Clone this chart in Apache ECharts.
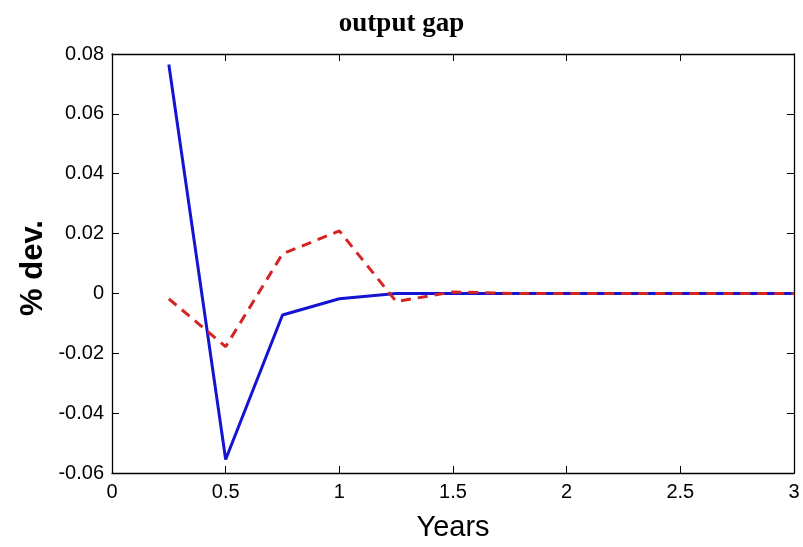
<!DOCTYPE html>
<html>
<head>
<meta charset="utf-8">
<script src="https://cdn.jsdelivr.net/npm/echarts@6/dist/echarts.min.js"></script>
<style>
  html, body { margin: 0; padding: 0; background: #fff; }
  #chart { width: 803px; height: 547px; }
</style>
</head>
<body>
<div id="chart"></div>
<script>
// Quarterly horizon (years) and impulse responses of the output gap
const years = [0.25, 0.5, 0.75, 1.0, 1.25, 1.5, 1.75, 2.0, 2.25, 2.5, 2.75, 3.0];
const seriesA = [0.0765, -0.0555, -0.0072, -0.0018, 0.0, 0.0, 0.0, 0.0, 0.0, 0.0, 0.0, 0.0];
const seriesB = [-0.0018, -0.0178, 0.0132, 0.0209, -0.0027, 0.0005, 0.0, 0.0, 0.0, 0.0, 0.0, 0.0];
const xTicks = [0, 0.5, 1, 1.5, 2, 2.5, 3];
const yTicks = [-0.06, -0.04, -0.02, 0, 0.02, 0.04, 0.06, 0.08];

const pairs = (vals) => years.map((t, i) => [t, vals[i]]);
const fmt = (v) => (Math.abs(v) < 1e-9 ? '0' : String(+v.toFixed(2)));

const sans = 'Liberation Sans, Arial, sans-serif';
const tickFont = { fontFamily: sans, fontSize: 20, color: '#000' };
const axisLineStyle = { onZero: false, lineStyle: { color: '#000', width: 1.3 } };
const innerTick = { inside: true, length: 7, lineStyle: { color: '#000', width: 1 } };

const chart = echarts.init(document.getElementById('chart'), null, { renderer: 'canvas' });
chart.setOption({
  animation: false,
  backgroundColor: '#fff',
  title: {
    text: 'output gap',
    left: 'center',
    top: 6,
    textStyle: { fontFamily: 'Liberation Serif, Times New Roman, serif', fontWeight: 'bold', fontSize: 27, color: '#000' }
  },
  graphic: [
    {
      type: 'text', x: 33, y: 268, rotation: Math.PI / 2,
      style: {
        text: '% dev.', fill: '#000', font: 'bold 31px ' + sans,
        textAlign: 'center', textVerticalAlign: 'middle'
      }
    }
  ],
  grid: { left: 112, right: 9, top: 54, bottom: 73, containLabel: false },
  xAxis: [
    {
      type: 'value', min: xTicks[0], max: xTicks[xTicks.length - 1], interval: 0.5, position: 'bottom',
      axisLine: axisLineStyle, axisTick: innerTick, splitLine: { show: false },
      axisLabel: Object.assign({ margin: 9, formatter: fmt }, tickFont),
      name: 'Years', nameLocation: 'middle', nameGap: 40,
      nameTextStyle: { fontFamily: sans, fontSize: 29, color: '#000' }
    },
    {
      type: 'value', min: xTicks[0], max: xTicks[xTicks.length - 1], interval: 0.5, position: 'top',
      axisLine: axisLineStyle, axisTick: innerTick, splitLine: { show: false },
      axisLabel: { show: false }
    }
  ],
  yAxis: [
    {
      type: 'value', min: yTicks[0], max: yTicks[yTicks.length - 1], interval: 0.02, position: 'left',
      axisLine: axisLineStyle, axisTick: innerTick, splitLine: { show: false },
      axisLabel: Object.assign({ margin: 8, formatter: fmt }, tickFont)
    },
    {
      type: 'value', min: yTicks[0], max: yTicks[yTicks.length - 1], interval: 0.02, position: 'right',
      axisLine: axisLineStyle, axisTick: innerTick, splitLine: { show: false },
      axisLabel: { show: false }
    }
  ],
  series: [
    {
      name: 'A', type: 'line', data: pairs(seriesA), xAxisIndex: 0, yAxisIndex: 0,
      showSymbol: false, lineStyle: { color: '#1414d2', width: 3 }, z: 2
    },
    {
      name: 'B', type: 'line', data: pairs(seriesB), xAxisIndex: 0, yAxisIndex: 0,
      showSymbol: false, lineStyle: { color: '#d42424', width: 3, type: [10, 7] }, z: 3
    }
  ]
});
</script>
</body>
</html>
